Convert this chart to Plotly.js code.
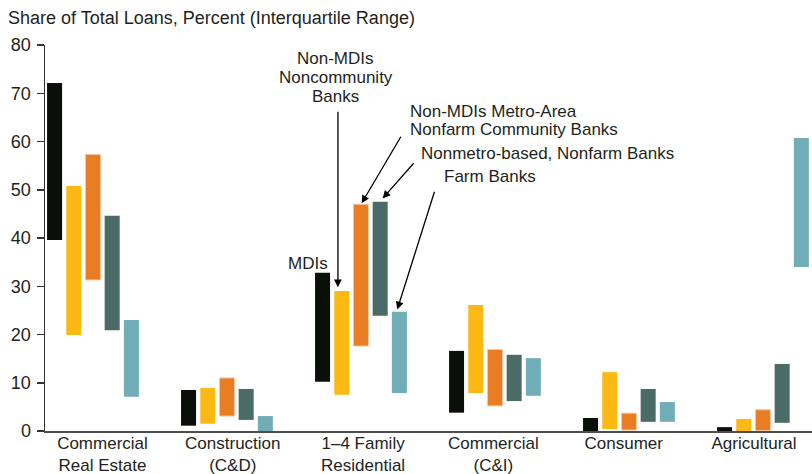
<!DOCTYPE html>
<html>
<head>
<meta charset="utf-8">
<script src="https://cdn.plot.ly/plotly-3.0.1.min.js"></script>
<style>html,body{margin:0;padding:0;background:#fff;}#chart{width:812px;height:474px;}</style>
</head>
<body>
<div id="chart"></div>
<script>
// Categories (tick labels)
const categories = ["Commercial<br>Real Estate", "Construction<br>(C&D)", "1–4 Family<br>Residential", "Commercial<br>(C&I)", "Consumer", "Agricultural"];
const seriesNames = ["MDIs", "Non-MDIs Noncommunity Banks", "Non-MDIs Metro-Area Nonfarm Community Banks", "Nonmetro-based, Nonfarm Banks", "Farm Banks"];

// Interquartile ranges: 25th percentile (low) and 75th percentile (high)
const mdisLow   = [39.6, 1.1, 10.2, 3.8, 0.0, 0.0];
const mdisHigh  = [72.1, 8.5, 32.8, 16.6, 2.7, 0.8];
const noncommLow  = [19.9, 1.5, 7.5, 7.9, 0.4, 0.0];
const noncommHigh = [50.8, 8.9, 29.0, 26.1, 12.2, 2.5];
const metroLow  = [31.3, 3.1, 17.6, 5.2, 0.2, 0.1];
const metroHigh = [57.3, 11.0, 47.0, 16.9, 3.7, 4.4];
const nonmetroLow  = [20.9, 2.3, 23.9, 6.2, 1.9, 1.7];
const nonmetroHigh = [44.6, 8.7, 47.5, 15.8, 8.7, 13.9];
const farmLow  = [7.1, 0.0, 7.9, 7.3, 1.9, 34.0];
const farmHigh = [23.0, 3.1, 24.7, 15.1, 6.0, 60.7];

const colors = ["#0b0f0a", "#fdb913", "#e87d23", "#4a6b66", "#70adb6"];
const lows = [mdisLow, noncommLow, metroLow, nonmetroLow, farmLow];
const highs = [mdisHigh, noncommHigh, metroHigh, nonmetroHigh, farmHigh];

const idx = categories.map((_, i) => i);
const FONT = "Liberation Sans, Arial, sans-serif";
const TXT = "#231f20";

const traces = seriesNames.map((name, s) => ({
  type: "bar",
  name: name,
  x: idx,
  base: lows[s],
  y: highs[s].map((h, i) => h - lows[s][i]),
  marker: {
    color: colors[s],
    line: s === 2 ? {color: "#f6c8a2", width: 1} : {width: 0}
  },
  hoverinfo: "skip"
}));

// Invisible trace for the category labels on a second x axis
traces.push({type: "scatter", x: idx, y: idx.map(() => null), xaxis: "x2", yaxis: "y", showlegend: false, hoverinfo: "skip"});

function ann(text, x, y, xanchor) {
  return {text: text, x: x, y: y, xref: "x", yref: "y", xanchor: xanchor || "center", yanchor: "middle",
          showarrow: false, font: {family: FONT, size: 17, color: TXT}};
}
function arrow(x, y, ax, ay) {
  return {text: "", x: x, y: y, ax: ax, ay: ay, xref: "x", yref: "y", axref: "x", ayref: "y",
          showarrow: true, arrowhead: 2, arrowsize: 1.2, arrowwidth: 1.3, arrowcolor: "#000", standoff: 0, startstandoff: 0};
}

const layout = {
  width: 812, height: 474,
  margin: {l: 45, r: 0, t: 45, b: 43},
  paper_bgcolor: "#fff", plot_bgcolor: "#fff",
  showlegend: false,
  barmode: "group",
  bargap: 0.2835,
  bargroupgap: 0.218,
  font: {family: FONT, size: 17, color: TXT},
  title: {text: "Share of Total Loans, Percent (Interquartile Range)", x: 8/812, xref: "container", xanchor: "left",
          y: 1 - 18/474, yref: "container", yanchor: "middle", font: {family: FONT, size: 18, color: TXT}},
  xaxis: {range: [-0.358, 5.366], showticklabels: false, ticks: "", showline: true, linecolor: "#4d4d4d", linewidth: 2,
          showgrid: false, zeroline: false, fixedrange: true},
  xaxis2: {overlaying: "x", anchor: "y", side: "bottom", range: [-0.441, 5.445], tickvals: idx, ticktext: categories,
           ticks: "", showline: false, showgrid: false, zeroline: false,
           tickfont: {family: FONT, size: 17, color: TXT}},
  yaxis: {range: [0, 80], tickvals: [0, 10, 20, 30, 40, 50, 60, 70, 80], ticks: "outside", ticklen: 7, tickwidth: 1.5,
          tickcolor: "#333", showline: true, linecolor: "#333", linewidth: 1.5, showgrid: false, zeroline: false,
          tickfont: {family: FONT, size: 18, color: TXT}, ticklabelstandoff: 2},
  annotations: [
    ann("MDIs", 1.604, 34.8),
    ann("Non-MDIs", 1.813, 77.1),
    ann("Noncommunity", 1.813, 73.2),
    ann("Banks", 1.813, 69.3),
    ann("Non-MDIs Metro-Area", 2.35, 66.3, "left"),
    ann("Nonfarm Community Banks", 2.35, 62.5, "left"),
    ann("Nonmetro-based, Nonfarm Banks", 2.433, 57.6, "left"),
    ann("Farm Banks", 2.602, 52.8, "left"),
    arrow(1.828, 29.8, 1.828, 66.5),
    arrow(2.005, 47.2, 2.304, 61.3),
    arrow(2.162, 48.2, 2.403, 55.8),
    arrow(2.271, 25.2, 2.552, 49.9)
  ]
};

Plotly.newPlot("chart", traces, layout, {displayModeBar: false, staticPlot: true});
</script>
</body>
</html>
